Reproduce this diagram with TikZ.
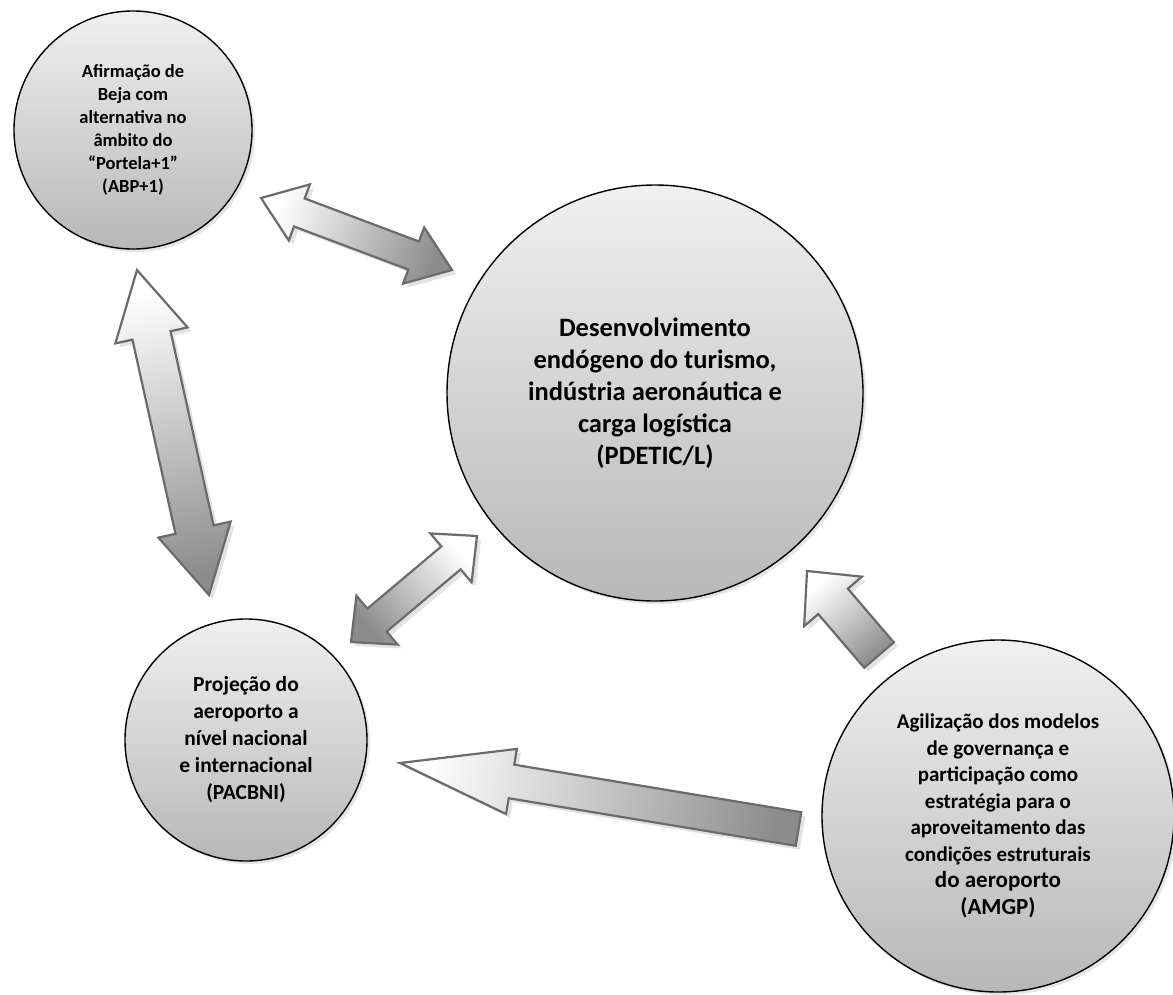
\documentclass[tikz,border=0pt]{standalone}
\usepackage{fontspec}
\setmainfont{Carlito}
\usepackage{tikz}
\usetikzlibrary{calc,shadows}

\tikzset{
  dbl/.style args={#1/#2/#3}{to path={
    -- ($($(\tikztostart)!#1!(\tikztotarget)$)!#2!90:(\tikztotarget)$)
    -- ($($(\tikztostart)!#1!(\tikztotarget)$)!#3!90:(\tikztotarget)$)
    -- ($($(\tikztotarget)!#1!(\tikztostart)$)!#3!-90:(\tikztostart)$)
    -- ($($(\tikztotarget)!#1!(\tikztostart)$)!#2!-90:(\tikztostart)$)
    -- (\tikztotarget)
    -- ($($(\tikztotarget)!#1!(\tikztostart)$)!#2!90:(\tikztostart)$)
    -- ($($(\tikztotarget)!#1!(\tikztostart)$)!#3!90:(\tikztostart)$)
    -- ($($(\tikztostart)!#1!(\tikztotarget)$)!#3!-90:(\tikztotarget)$)
    -- ($($(\tikztostart)!#1!(\tikztotarget)$)!#2!-90:(\tikztotarget)$)
    -- cycle}},
  sgl/.style args={#1/#2/#3}{to path={
    -- ($(\tikztostart)!#3!90:(\tikztotarget)$)
    -- ($($(\tikztotarget)!#1!(\tikztostart)$)!#3!-90:(\tikztostart)$)
    -- ($($(\tikztotarget)!#1!(\tikztostart)$)!#2!-90:(\tikztostart)$)
    -- (\tikztotarget)
    -- ($($(\tikztotarget)!#1!(\tikztostart)$)!#2!90:(\tikztostart)$)
    -- ($($(\tikztotarget)!#1!(\tikztostart)$)!#3!90:(\tikztostart)$)
    -- ($(\tikztostart)!#3!-90:(\tikztotarget)$)
    -- cycle}}
}

\begin{document}
\begin{tikzpicture}[x=1pt,y=-1pt]
\tikzstyle{circ}=[circle,draw,line width=1.4pt,top color=black!6,bottom color=black!28,align=center,inner sep=0pt,drop shadow={opacity=0.2,shadow xshift=3pt,shadow yshift=-3pt}]
\tikzstyle{blk}=[draw=black!58,line width=2.2pt,line join=miter,top color=white,bottom color=black!45,drop shadow={opacity=0.22,shadow xshift=4pt,shadow yshift=-4pt}]
\useasboundingbox[fill=white] (0,0) rectangle (1173,994);
\node[circ,minimum size=238pt,font=\fontsize{18.5}{23}\selectfont\bfseries] (abp) at (133,130) {Afirmação de\\Beja com\\alternativa no\\âmbito do\\“Portela+1”\\(ABP+1)};
\node[circ,minimum size=416pt,font=\fontsize{26.5}{32}\selectfont\bfseries] (pdetic) at (655,393) {Desenvolvimento\\endógeno do turismo,\\indústria aeronáutica e\\carga logística\\(PDETIC/L)};
\node[circ,minimum size=242pt,font=\fontsize{21.5}{27}\selectfont\bfseries] (pacbni) at (246,740) {Projeção do\\aeroporto a\\nível nacional\\e internacional\\(PACBNI)};
\node[circ,minimum size=352pt,font=\fontsize{21}{26.5}\selectfont\bfseries] (amgp) at (998,816) {Agilização dos modelos\\de governança e\\participação como\\estratégia para o\\aproveitamento das\\condições estruturais\\\fontsize{23}{29}\selectfont do aeroporto\\\fontsize{23}{29}\selectfont (AMGP)};
\coordinate (abp-e) at (261,198);
\coordinate (pdetic-nw) at (452,270);
\coordinate (abp-s) at (137,270);
\coordinate (pacbni-n) at (209,595);
\coordinate (pdetic-sw) at (477,536);
\coordinate (pacbni-ne) at (351,642);
\coordinate (amgp-w) at (798.5,829);
\coordinate (pacbni-e) at (400,763);
\coordinate (amgp-nw) at (879,655);
\coordinate (pdetic-se) at (807,571);
\draw[blk,shading angle=69.3] (abp-e) to[dbl=41pt/30pt/15pt] (pdetic-nw);
\draw[blk,shading angle=12.5] (abp-s) to[dbl=67pt/37pt/19.5pt] (pacbni-n);
\draw[blk,shading angle=-49.9] (pdetic-sw) to[dbl=34pt/32pt/15pt] (pacbni-ne);
\draw[blk,shading angle=80.6] (amgp-w) to[sgl=113pt/33pt/17pt] (pacbni-e);
\draw[blk,shading angle=40.6] (amgp-nw) to[sgl=40pt/38pt/19.5pt] (pdetic-se);
\end{tikzpicture}
\end{document}
